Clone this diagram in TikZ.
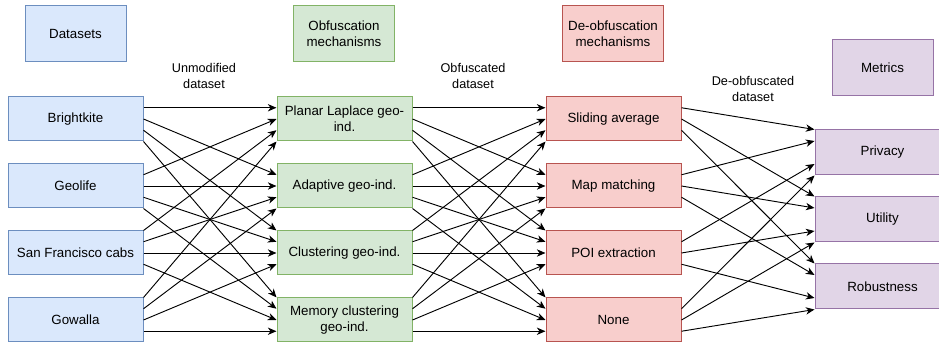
\documentclass[tikz,border=0pt]{standalone}
\usepackage{fontspec}
\setmainfont{Liberation Sans}
\usetikzlibrary{arrows.meta,calc}

\definecolor{dsfill}{HTML}{DAE8FC}
\definecolor{dsline}{HTML}{6C8EBF}
\definecolor{omfill}{HTML}{D5E8D4}
\definecolor{omline}{HTML}{82B366}
\definecolor{dmfill}{HTML}{F8CECC}
\definecolor{dmline}{HTML}{B85450}
\definecolor{mtfill}{HTML}{E1D5E7}
\definecolor{mtline}{HTML}{9673A6}

\tikzset{
    box/.style={draw, line width=0.75pt, minimum width=101.25pt, minimum height=33pt,
        inner sep=2pt, align=center, font=\fontsize{10}{12}\selectfont},
    headbox/.style={box, minimum width=75.75pt, minimum height=42pt},
    dsbox/.style={fill=dsfill, draw=dsline},
    ombox/.style={fill=omfill, draw=omline},
    dmbox/.style={fill=dmfill, draw=dmline},
    mtbox/.style={fill=mtfill, draw=mtline},
    link/.style={-{Stealth[length=6.5pt,width=5.5pt,inset=2pt]}, line width=0.7pt},
    caption/.style={align=center, font=\fontsize{9.5}{11.5}\selectfont}
}

\begin{document}
\begin{tikzpicture}[x=0.75pt, y=-0.75pt]
\clip (0,0) rectangle (939,345);
% headers
\node[headbox, dsbox] (dsh) at (75.5,34) {Datasets};
\node[headbox, ombox] (omh) at (344,34) {Obfuscation\\mechanisms};
\node[headbox, dmbox] (dmh) at (613,34) {De-obfuscation\\mechanisms};
\node[headbox, mtbox] (mth) at (882.5,68) {Metrics};
% columns
\foreach \txt [count=\i] in {Brightkite, Geolife, San Francisco cabs, Gowalla}
    \node[box, dsbox] (ds\i) at (75.5, 52+67*\i) {\txt};
\foreach \txt [count=\i] in {{Planar Laplace geo-\\ind.}, Adaptive geo-ind., Clustering geo-ind., {Memory clustering\\geo-ind.}}
    \node[box, ombox] (om\i) at (344.5, 52+67*\i) {\txt};
\foreach \txt [count=\i] in {Sliding average, Map matching, POI extraction, None}
    \node[box, dmbox] (dm\i) at (613.5, 52+67*\i) {\txt};
\foreach \txt [count=\i] in {Privacy, Utility, Robustness}
    \node[box, mtbox, minimum height=33.75pt] (mt\i) at (882.5, 85.5+67*\i) {\txt};
% edge labels
\node[caption] (lab1) at (204,76) {Unmodified\\dataset};
\node[caption] (lab2) at (473,76) {Obfuscated\\dataset};
\node[caption] (lab3) at (753,89) {De-obfuscated\\dataset};
% all to all links
\foreach \a/\b in {ds/om, om/dm} {
    \foreach \i in {1,...,4} {
        \foreach \j in {1,...,4} {
            \pgfmathsetmacro\fout{0.25*(\j-(\i>2))}
            \pgfmathsetmacro\fin{0.25*(\i-(\j>2))}
            \draw[link] ($(\a\i.north east)!\fout!(\a\i.south east)$) -- ($(\b\j.north west)!\fin!(\b\j.south west)$);
        }
    }
}
\foreach \i/\fin in {1/0, 2/0.25, 3/0.75, 4/1} {
    \foreach \j in {1,2,3} {
        \pgfmathsetmacro\fout{0.25*\j}
        \draw[link] ($(dm\i.north east)!\fout!(dm\i.south east)$) -- ($(mt\j.north west)!\fin!(mt\j.south west)$);
    }
}
\end{tikzpicture}
\end{document}
